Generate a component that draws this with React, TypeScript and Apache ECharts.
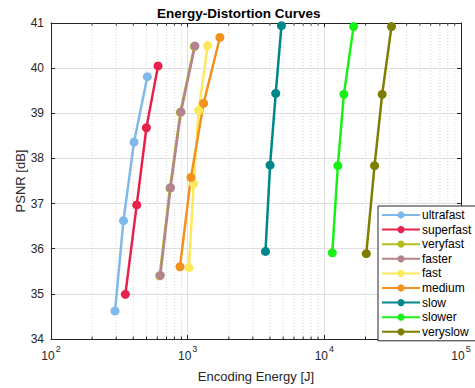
import React, { useEffect, useRef } from "react";
import * as echarts from "echarts";

const seriesNames = ["ultrafast", "superfast", "veryfast", "faster", "fast", "medium", "slow", "slower", "veryslow"];
const seriesColors = ["#80B9E9", "#E6224C", "#B2BE1E", "#B4848E", "#FBE95A", "#F2911E", "#00878A", "#18F018", "#7E7E00"];

const ultrafast = [[294, 34.62], [339, 36.62], [405, 38.36], [507, 39.81]];
const superfast = [[350, 34.99], [424, 36.97], [499, 38.68], [607, 40.05]];
const veryfast = [[624, 35.4], [742, 37.34], [884, 39.02], [1118, 40.48]];
const faster = [[631, 35.41], [749, 37.35], [893, 39.03], [1130, 40.49]];
const fast = [[1022, 35.58], [1106, 37.44], [1203, 39.06], [1400, 40.5]];
const medium = [[879, 35.6], [1057, 37.58], [1308, 39.22], [1721, 40.68]];
const slow = [[3710, 35.94], [4009, 37.85], [4409, 39.44], [4856, 40.94]];
const slower = [[11430, 35.91], [12560, 37.84], [13900, 39.42], [16370, 40.92]];
const veryslow = [[20280, 35.89], [23300, 37.84], [26500, 39.42], [31000, 40.92]];

const seriesData = [ultrafast, superfast, veryfast, faster, fast, medium, slow, slower, veryslow];

const minorTicks = [200, 300, 400, 500, 600, 700, 800, 900, 2000, 3000, 4000, 5000, 6000, 7000, 8000, 9000, 20000, 30000, 40000, 50000, 60000, 70000, 80000, 90000];

const X_MIN = 100;
const X_MAX = 100000;
const Y_MIN = 34;
const Y_MAX = 41;

const FONT = "Liberation Sans, Arial, Helvetica, sans-serif";
const TXT = "#262626";

export default function App() {
  const ref = useRef<HTMLDivElement>(null);
  useEffect(() => {
    if (!ref.current) return;
    const chart = echarts.init(ref.current, undefined, { renderer: "svg" });
    const logLabel = (v: number) => "{b|10}{s|" + Math.round(Math.log10(v)) + "}";
    const axisCommon = {
      type: "log" as const,
      logBase: 10,
      min: X_MIN,
      max: X_MAX,
      splitNumber: 3,
    };
    const lineSeries = seriesNames.map((name, i) => ({
      name,
      type: "line",
      data: seriesData[i],
      xAxisIndex: 0,
      yAxisIndex: 0,
      symbol: "circle",
      symbolSize: 9,
      showSymbol: true,
      lineStyle: { width: 2.5, color: seriesColors[i] },
      itemStyle: { color: seriesColors[i] },
      z: 5,
    }));
    chart.setOption({
      animation: false,
      backgroundColor: "#ffffff",
      textStyle: { fontFamily: FONT },
      title: {
        text: "Energy-Distortion Curves",
        left: 152,
        top: 1,
        textStyle: { fontSize: 13.5, fontWeight: "bold", color: "#000", fontFamily: FONT },
      },
      grid: { left: 51, right: 14, top: 23, bottom: 42, containLabel: false },
      legend: {
        orient: "vertical",
        left: 378,
        top: 206,
        data: seriesNames,
        itemWidth: 38,
        itemHeight: 9,
        itemGap: 2.6,
        padding: [3, 40, 3, 3],
        backgroundColor: "#ffffff",
        borderColor: "#262626",
        borderWidth: 1,
        textStyle: { fontSize: 12, lineHeight: 12, color: "#000", fontFamily: FONT, padding: [0, 0, 0, -3] },
        z: 20,
      },
      xAxis: [
        {
          ...axisCommon,
          position: "bottom",
          name: "Encoding Energy [J]",
          nameLocation: "middle",
          nameGap: 31,
          nameMoveOverlap: false,
          nameTextStyle: { fontSize: 13, color: TXT, fontFamily: FONT },
          axisLine: { show: true, lineStyle: { color: TXT, width: 1 } },
          axisTick: { show: true, inside: true, length: 4, lineStyle: { color: TXT } },
          axisLabel: {
            formatter: logLabel,
            margin: 5,
            rich: {
              b: { fontSize: 12, color: TXT, fontFamily: FONT, padding: [6, 0, 0, 0] },
              s: { fontSize: 9, color: TXT, fontFamily: FONT, verticalAlign: "top", padding: [0, 0, 6, 1] },
            },
          },
          splitLine: { show: true, lineStyle: { color: "#dedede", width: 1 } },
        },
        {
          ...axisCommon,
          position: "top",
          axisLine: { show: true, lineStyle: { color: TXT, width: 1 } },
          axisTick: { show: true, inside: true, length: 4, lineStyle: { color: TXT } },
          axisLabel: { show: false },
          splitLine: { show: false },
        },
      ],
      yAxis: [
        {
          type: "value",
          min: Y_MIN,
          max: Y_MAX,
          interval: 1,
          position: "left",
          name: "PSNR [dB]",
          nameLocation: "middle",
          nameGap: 24,
          nameMoveOverlap: false,
          nameTextStyle: { fontSize: 13, color: TXT, fontFamily: FONT },
          axisLine: { show: true, lineStyle: { color: TXT, width: 1 } },
          axisTick: { show: true, inside: true, length: 4, lineStyle: { color: TXT } },
          axisLabel: { fontSize: 12, color: TXT, fontFamily: FONT, margin: 7 },
          splitLine: { show: true, lineStyle: { color: "#dedede", width: 1 } },
        },
        {
          type: "value",
          min: Y_MIN,
          max: Y_MAX,
          interval: 1,
          position: "right",
          axisLine: { show: true, lineStyle: { color: TXT, width: 1 } },
          axisTick: { show: true, inside: true, length: 4, lineStyle: { color: TXT } },
          axisLabel: { show: false },
          splitLine: { show: false },
        },
      ],
      series: [
        {
          name: "minorGrid",
          type: "custom",
          xAxisIndex: 0,
          yAxisIndex: 0,
          silent: true,
          z: 1,
          data: minorTicks.map((v) => [v, Y_MIN]),
          encode: { x: 0, y: 1 },
          renderItem: (params: any, api: any) => {
            const x = api.value(0);
            const top = api.coord([x, Y_MAX]);
            const bot = api.coord([x, Y_MIN]);
            return {
              type: "group",
              children: [
                {
                  type: "line",
                  shape: { x1: top[0], y1: top[1], x2: bot[0], y2: bot[1] },
                  style: { stroke: "#d4d4d4", lineWidth: 1, lineDash: [1, 2] },
                },
                {
                  type: "line",
                  shape: { x1: bot[0], y1: bot[1], x2: bot[0], y2: bot[1] - 2.5 },
                  style: { stroke: TXT, lineWidth: 1 },
                },
                {
                  type: "line",
                  shape: { x1: top[0], y1: top[1], x2: top[0], y2: top[1] + 2.5 },
                  style: { stroke: TXT, lineWidth: 1 },
                },
              ],
            };
          },
        },
        ...lineSeries,
      ],
    });
    return () => chart.dispose();
  }, []);
  return (
    <div
      ref={ref}
      style={{ position: "fixed", left: 0, top: 0, width: 475, height: 388 }}
    />
  );
}
